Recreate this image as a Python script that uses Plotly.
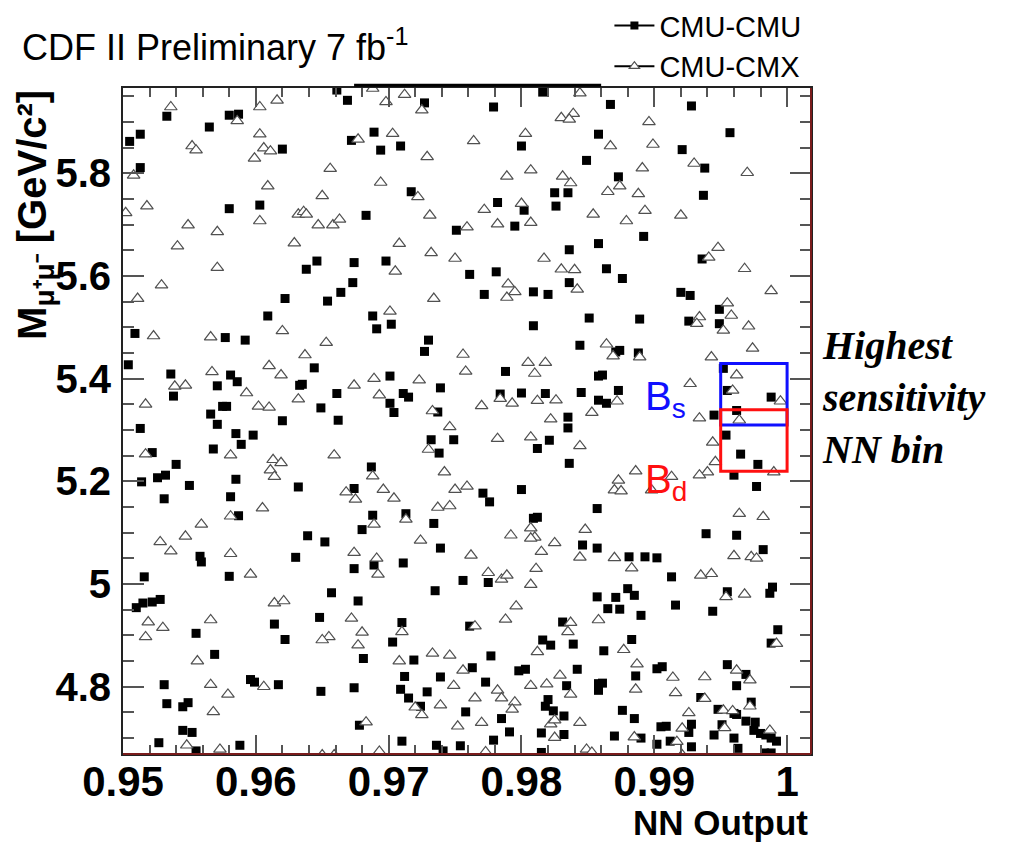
import plotly.graph_objects as go

# ---------------- data (NN output, dimuon mass in GeV/c^2) ----------------
cmu_cmu_nn = [
0.9533,0.9580,0.9587,0.9565,0.9505,0.9513,0.9620,0.9513,0.9580,0.9603,
0.9622,0.9609,0.9509,0.9577,0.9592,0.9504,0.9536,0.9581,0.9586,0.9571,
0.9538,0.9633,0.9575,0.9578,0.9566,0.9620,0.9571,0.9513,0.9585,0.9598,
0.9589,0.9568,0.9522,0.9540,0.9514,0.9526,0.9532,0.9550,0.9585,0.9632,
0.9531,0.9581,0.9587,0.9558,0.9559,0.9630,0.9516,0.9580,0.9510,0.9515,
0.9522,0.9528,0.9614,0.9555,0.9622,0.9569,0.9596,0.9599,0.9617,0.9531,
0.9533,0.9545,0.9549,0.9545,0.9552,0.9527,0.9588,0.9555,0.9661,0.9669,
0.9727,0.9779,0.9816,0.9689,0.9672,0.9694,0.9709,0.9800,0.9858,0.9849,
0.9717,0.9782,0.9802,0.9825,0.9835,0.9826,0.9683,0.9751,0.9795,0.9858,
0.9836,0.9646,0.9638,0.9674,0.9698,0.9761,0.9781,0.9673,0.9664,0.9654,
0.9772,0.9809,0.9820,0.9836,0.9688,0.9691,0.9702,0.9809,0.9851,0.9730,
0.9727,0.9844,0.9644,0.9701,0.9788,0.9858,0.9635,0.9661,0.9739,0.9711,
0.9715,0.9784,0.9800,0.9818,0.9845,0.9858,0.9649,0.9701,0.9704,0.9737,
0.9662,0.9835,0.9835,0.9821,0.9812,0.9732,0.9749,0.9738,0.9836,0.9687,
0.9674,0.9771,0.9776,0.9800,0.9688,0.9713,0.9680,0.9734,0.9809,0.9812,
0.9857,0.9639,0.9652,0.9739,0.9846,0.9857,0.9674,0.9689,0.9711,0.9756,
0.9775,0.9735,0.9657,0.9677,0.9857,0.9648,0.9710,0.9761,0.9831,0.9703,
0.9816,0.9822,0.9839,0.9681,0.9719,0.9777,0.9763,0.9798,0.9803,0.9842,
0.9712,0.9739,0.9773,0.9834,0.9858,0.9649,0.9674,0.9709,0.9729,0.9715,
0.9858,0.9820,0.9818,0.9724,0.9824,0.9832,0.9758,0.9785,0.9678,0.9791,
0.9815,0.9832,0.9779,0.9710,0.9736,0.9741,0.9754,0.9815,0.9867,0.9928,
0.9957,0.9921,0.9938,0.9873,0.9937,0.9892,0.9936,0.9864,0.9876,0.9920,
0.9927,0.9949,0.9889,0.9926,0.9949,0.9874,0.9871,0.9888,0.9861,0.9864,
0.9873,0.9952,0.9955,0.9988,0.9962,0.9945,0.9954,0.9965,0.9978,0.9960,
0.9977,0.9939,0.9962,0.9982,0.9881,0.9893,0.9902,0.9913,0.9880,0.9885,
0.9871,0.9865,0.9874,0.9890,0.9916,0.9944,0.9955,0.9989,0.9987,0.9993,
0.9988,0.9883,0.9862,0.9902,0.9906,0.9886,0.9861,0.9955,0.9969,0.9962,
0.9935,0.9876,0.9885,0.9948,0.9973,0.9960,0.9962,0.9969,0.9976,0.9951,
0.9928,0.9905,0.9909,0.9926,0.9975,0.9980,0.9984,0.9988,0.9992,0.9870,
0.9890,0.9945,0.9960,0.9912,0.9902,0.9928,0.9963,0.9983,0.9988]
cmu_cmu_mass = [
5.911,5.913,5.915,5.890,5.862,5.876,5.847,5.811,5.731,5.738,
5.556,5.522,5.488,5.480,5.475,5.427,5.409,5.407,5.394,5.386,
5.366,5.387,5.346,5.346,5.331,5.318,5.311,5.303,5.293,5.290,
5.272,5.263,5.256,5.233,5.199,5.207,5.212,5.192,5.204,5.189,
5.166,5.170,5.133,5.054,5.043,5.052,5.014,5.015,4.954,4.963,
4.965,4.970,4.922,4.904,4.892,4.863,4.814,4.809,4.804,4.804,
4.767,4.761,4.769,4.715,4.711,4.691,4.686,4.675,5.962,5.942,
5.937,5.929,5.958,5.880,5.864,5.845,5.853,5.853,5.876,5.825,
5.764,5.743,5.728,5.762,5.762,5.736,5.718,5.689,5.697,5.663,
5.651,5.629,5.613,5.626,5.629,5.603,5.608,5.587,5.568,5.551,
5.564,5.569,5.564,5.587,5.522,5.497,5.506,5.503,5.518,5.475,
5.453,5.465,5.421,5.405,5.414,5.405,5.389,5.371,5.382,5.371,
5.364,5.370,5.372,5.371,5.373,5.358,5.343,5.352,5.334,5.335,
5.319,5.325,5.304,5.280,5.264,5.281,5.281,5.255,5.235,5.228,
5.186,5.177,5.160,5.184,5.134,5.137,5.106,5.118,5.128,5.130,
5.147,5.094,5.082,5.070,5.076,5.070,5.030,5.037,5.041,5.007,
5.003,4.987,4.983,4.967,4.975,4.935,4.925,4.918,4.926,4.887,
4.891,4.881,4.883,4.855,4.852,4.860,4.837,4.831,4.834,4.834,
4.820,4.819,4.809,4.802,4.806,4.791,4.798,4.795,4.790,4.778,
4.793,4.775,4.762,4.762,4.753,4.743,4.751,4.738,4.725,4.712,
4.710,4.707,4.696,4.694,4.686,4.675,4.685,4.672,5.934,5.931,
5.879,5.846,5.810,5.793,5.757,5.677,5.633,5.614,5.595,5.568,
5.562,5.535,5.516,5.512,5.507,5.455,5.452,5.450,5.407,5.352,
5.377,5.420,5.377,5.364,5.338,5.329,5.290,5.253,5.233,5.212,
5.190,5.098,5.095,5.067,5.053,5.053,5.051,5.014,4.991,4.978,
4.974,4.952,4.951,4.939,4.959,4.947,4.985,4.994,4.982,4.911,
4.885,4.892,4.870,4.835,4.839,4.821,4.807,4.843,4.824,4.802,
4.779,4.754,4.738,4.756,4.770,4.748,4.746,4.733,4.731,4.726,
4.727,4.722,4.723,4.711,4.715,4.709,4.706,4.700,4.694,4.704,
4.700,4.706,4.700,4.694,4.688,4.683,4.680,4.671,4.671]

cmu_cmx_nn = [
0.9536,0.9586,0.9603,0.9616,0.9603,0.9552,0.9555,0.9606,0.9611,0.9599,
0.9508,0.9609,0.9518,0.9502,0.9603,0.9549,0.9571,0.9632,0.9541,0.9629,
0.9571,0.9529,0.9511,0.9523,0.9566,0.9620,0.9610,0.9619,0.9567,0.9539,
0.9547,0.9593,0.9632,0.9517,0.9602,0.9610,0.9517,0.9581,0.9613,0.9619,
0.9611,0.9614,0.9605,0.9581,0.9559,0.9528,0.9547,0.9536,0.9581,0.9596,
0.9614,0.9621,0.9519,0.9566,0.9530,0.9517,0.9556,0.9566,0.9606,0.9579,
0.9568,0.9548,0.9573,0.9650,0.9659,0.9688,0.9712,0.9698,0.9725,0.9844,
0.9830,0.9839,0.9836,0.9677,0.9703,0.9764,0.9803,0.9729,0.9656,0.9694,
0.9789,0.9807,0.9831,0.9837,0.9650,0.9722,0.9772,0.9800,0.9854,0.9636,
0.9638,0.9647,0.9658,0.9663,0.9731,0.9759,0.9782,0.9807,0.9708,0.9732,
0.9750,0.9817,0.9705,0.9830,0.9840,0.9790,0.9795,0.9789,0.9842,0.9734,
0.9701,0.9653,0.9637,0.9756,0.9805,0.9818,0.9810,0.9758,0.9723,0.9689,
0.9674,0.9693,0.9784,0.9793,0.9770,0.9812,0.9826,0.9733,0.9822,0.9853,
0.9746,0.9782,0.9807,0.9844,0.9730,0.9659,0.9742,0.9688,0.9668,0.9675,
0.9696,0.9704,0.9750,0.9759,0.9737,0.9746,0.9713,0.9689,0.9724,0.9792,
0.9807,0.9810,0.9807,0.9825,0.9848,0.9815,0.9844,0.9674,0.9691,0.9692,
0.9762,0.9775,0.9785,0.9789,0.9811,0.9807,0.9796,0.9788,0.9672,0.9680,
0.9655,0.9650,0.9677,0.9710,0.9765,0.9837,0.9835,0.9858,0.9733,0.9746,
0.9708,0.9812,0.9756,0.9829,0.9749,0.9782,0.9785,0.9765,0.9807,0.9819,
0.9837,0.9795,0.9793,0.9739,0.9720,0.9725,0.9752,0.9770,0.9822,0.9825,
0.9825,0.9844,0.9683,0.9693,0.9773,0.9849,0.9853,0.9896,0.9867,0.9899,
0.9891,0.9930,0.9970,0.9865,0.9874,0.9888,0.9893,0.9920,0.9879,0.9948,
0.9941,0.9968,0.9988,0.9955,0.9958,0.9934,0.9932,0.9971,0.9952,0.9974,
0.9864,0.9869,0.9889,0.9943,0.9962,0.9927,0.9872,0.9959,0.9995,0.9934,
0.9964,0.9944,0.9946,0.9940,0.9934,0.9990,0.9886,0.9913,0.9873,0.9870,
0.9875,0.9898,0.9964,0.9982,0.9870,0.9883,0.9960,0.9973,0.9977,0.9935,
0.9943,0.9954,0.9968,0.9877,0.9992,0.9887,0.9886,0.9914,0.9916,0.9938,
0.9962,0.9972,0.9938,0.9926,0.9952,0.9959,0.9972,0.9921,0.9953,0.9885,
0.9917,0.9987,0.9921]
cmu_cmx_mass = [
5.929,5.902,5.929,5.942,5.876,5.853,5.845,5.849,5.843,5.829,
5.796,5.775,5.736,5.723,5.707,5.699,5.686,5.720,5.658,5.664,
5.616,5.582,5.556,5.483,5.481,5.493,5.425,5.407,5.413,5.385,
5.387,5.372,5.360,5.350,5.346,5.344,5.253,5.251,5.242,5.236,
5.222,5.209,5.148,5.132,5.116,5.082,5.093,5.064,5.059,5.019,
4.963,4.967,4.926,4.930,4.915,4.897,4.850,4.804,4.800,4.785,
4.751,4.686,4.678,4.667,4.667,5.965,5.953,5.939,5.923,5.956,
5.908,5.916,5.905,5.866,5.877,5.863,5.877,5.832,5.809,5.782,
5.794,5.806,5.794,5.781,5.756,5.754,5.729,5.741,5.720,5.725,
5.720,5.699,5.699,5.710,5.718,5.695,5.701,5.704,5.663,5.645,
5.634,5.634,5.609,5.613,5.612,5.584,5.569,5.558,5.574,5.556,
5.531,5.470,5.446,5.447,5.431,5.431,5.410,5.414,5.397,5.400,
5.387,5.368,5.361,5.352,5.347,5.357,5.358,5.337,5.321,5.334,
5.306,5.283,5.286,5.269,5.262,5.251,5.218,5.210,5.179,5.165,
5.184,5.167,5.184,5.190,5.149,5.152,5.126,5.116,5.085,5.095,
5.109,5.091,5.089,5.080,5.106,5.063,5.052,5.061,5.050,5.019,
5.056,5.022,5.009,5.017,5.030,4.999,4.957,4.931,4.933,4.906,
4.897,4.891,4.881,4.907,4.918,4.925,4.907,4.930,4.865,4.861,
4.850,4.868,4.832,4.822,4.802,4.793,4.778,4.778,4.802,4.805,
4.785,4.770,4.756,4.764,4.760,4.745,4.723,4.730,4.727,4.735,
4.701,4.730,4.731,4.674,4.673,4.678,4.672,5.900,5.853,5.856,
5.810,5.819,5.801,5.764,5.775,5.760,5.727,5.718,5.707,5.655,
5.636,5.614,5.571,5.547,5.523,5.520,5.507,5.502,5.494,5.459,
5.467,5.444,5.442,5.442,5.407,5.390,5.356,5.377,5.356,5.323,
5.319,5.276,5.238,5.218,5.212,5.218,5.220,5.209,5.202,5.183,
5.181,5.183,5.137,5.131,5.051,5.031,5.055,5.053,5.050,5.017,
5.020,4.975,4.980,4.872,4.884,4.844,4.795,4.818,4.788,4.819,
4.832,4.813,4.777,4.749,4.754,4.753,4.762,4.719,4.720,4.702,
4.693,4.715,4.667]

x_tick_vals = [0.95, 0.96, 0.97, 0.98, 0.99, 1.00]
x_tick_text = ["0.95", "0.96", "0.97", "0.98", "0.99", "1"]
y_tick_vals = [4.8, 5.0, 5.2, 5.4, 5.6, 5.8]
y_tick_text = ["4.8", "5", "5.2", "5.4", "5.6", "5.8"]

# signal windows of the highest-sensitivity NN bin
nn_bin = [0.995, 1.000]
bs_mass, bd_mass, half_window = 5.3696, 5.2795, 0.06

SANS = "Liberation Sans, Arial, Helvetica, sans-serif"
SERIF = "Liberation Serif, Times New Roman, serif"

fig = go.Figure()

fig.add_trace(go.Scatter(
    x=cmu_cmu_nn, y=cmu_cmu_mass, mode="markers", showlegend=False,
    marker=dict(symbol="square", size=9, color="black", line=dict(width=0)),
))
fig.add_trace(go.Scatter(
    x=cmu_cmx_nn, y=cmu_cmx_mass, mode="markers", showlegend=False,
    marker=dict(symbol="triangle-up", size=11, color="white",
                line=dict(color="#505050", width=1.2)),
))
# legend entries (ROOT "lp" style: line through marker)
fig.add_trace(go.Scatter(
    x=[None], y=[None], mode="lines+markers", name="CMU-CMU",
    line=dict(color="black", width=2),
    marker=dict(symbol="square", size=8, color="black"),
))
fig.add_trace(go.Scatter(
    x=[None], y=[None], mode="lines+markers", name="CMU-CMX",
    line=dict(color="black", width=2),
    marker=dict(symbol="triangle-up", size=9, color="white",
                line=dict(color="#505050", width=1.2)),
))

tickfont_x = dict(family=SANS, size=42, color="black", weight="bold")
tickfont_y = dict(family=SANS, size=40, color="black", weight="bold")

fig.update_xaxes(
    range=[0.95, 1.0018], autorange=False,
    tickmode="array", tickvals=x_tick_vals, ticktext=x_tick_text,
    ticks="inside", ticklen=19, tickwidth=1.5, tickcolor="#555555",
    minor=dict(ticks="inside", ticklen=9, tickwidth=1.5, tickcolor="#555555",
               tick0=0.95, dtick=0.002, showgrid=False),
    showline=True, linecolor="#222222", linewidth=2, mirror="ticks",
    showgrid=False, zeroline=False, tickfont=tickfont_x,
    ticklabelstandoff=-10, automargin=False,
)
fig.update_yaxes(
    range=[4.669, 5.966], autorange=False,
    tickmode="array", tickvals=y_tick_vals, ticktext=y_tick_text,
    ticks="inside", ticklen=21, tickwidth=1.5, tickcolor="#555555",
    minor=dict(ticks="inside", ticklen=11, tickwidth=1.5, tickcolor="#555555",
               tick0=4.7, dtick=0.05, showgrid=False),
    showline=True, linecolor="#222222", linewidth=2, mirror="ticks",
    showgrid=False, zeroline=False, tickfont=tickfont_y,
    ticklabelstandoff=2, automargin=False,
)

shapes = [
    # Bs window (blue) and Bd window (red)
    dict(type="rect", xref="x", yref="y", x0=nn_bin[0], x1=nn_bin[1],
         y0=bs_mass - half_window, y1=bs_mass + half_window,
         line=dict(color="#1010ff", width=3)),
    dict(type="rect", xref="x", yref="y", x0=nn_bin[0], x1=nn_bin[1],
         y0=bd_mass - half_window, y1=bd_mass + half_window,
         line=dict(color="#ff1010", width=3)),
    # reddish bottom and right frame edges
    dict(type="line", xref="paper", yref="paper", x0=0, x1=1, y0=0, y1=0,
         line=dict(color="#7a1c1c", width=2)),
    dict(type="line", xref="paper", yref="paper", x0=1, x1=1, y0=0, y1=1,
         line=dict(color="#7a1c1c", width=2)),
    # thick stub above the top frame
    dict(type="line", xref="x", yref="paper", x0=0.9674, x1=0.9860,
         y0=1.004, y1=1.004, line=dict(color="black", width=3)),
]

annotations = [
    dict(text="CDF II Preliminary 7 fb<sup>-1</sup>", xref="paper", yref="paper",
         x=-0.150, y=1.064, xanchor="left", yanchor="middle", showarrow=False,
         font=dict(family=SANS, size=36, color="black")),
    dict(text="NN Output", xref="paper", yref="paper",
         x=0.9985, y=-0.103, xanchor="right", yanchor="middle", showarrow=False,
         font=dict(family=SANS, size=35, color="black", weight="bold")),
    dict(text="M<sub>μ⁺μ⁻</sub> [GeV/c²]", xref="paper", yref="paper",
         x=-0.128, y=1.0, xanchor="center", yanchor="top", textangle=-90,
         showarrow=False,
         font=dict(family=SANS, size=40, color="black", weight="bold")),
    dict(text="B<sub>s</sub>", xref="paper", yref="paper",
         x=0.789, y=0.533, xanchor="center", yanchor="middle", showarrow=False,
         font=dict(family=SANS, size=40, color="#1010ff")),
    dict(text="B<sub>d</sub>", xref="paper", yref="paper",
         x=0.789, y=0.408, xanchor="center", yanchor="middle", showarrow=False,
         font=dict(family=SANS, size=40, color="#ff1010")),
    dict(text="Highest<br>sensitivity<br>NN bin", xref="paper", yref="paper",
         x=1.013, y=0.535, xanchor="left", yanchor="middle", align="left",
         showarrow=False,
         font=dict(family=SERIF, size=40, color="black", weight="bold",
                   style="italic")),
]

fig.update_layout(
    width=1015, height=843,
    margin=dict(l=123, r=204, t=88, b=89, autoexpand=False),
    paper_bgcolor="white", plot_bgcolor="white",
    shapes=shapes, annotations=annotations,
    legend=dict(x=0.707, y=1.132, xanchor="left", yanchor="top",
                bgcolor="rgba(0,0,0,0)", itemwidth=40,
                font=dict(family=SANS, size=29, color="black")),
)

fig.write_html("out.html")
